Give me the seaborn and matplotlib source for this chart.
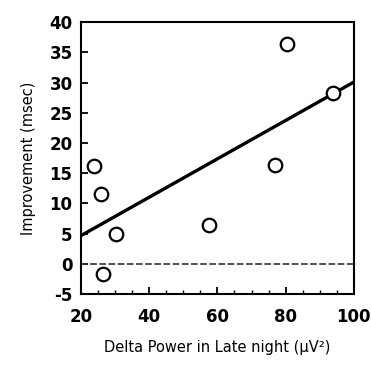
import matplotlib
matplotlib.use("Agg")
import numpy as np
import pandas as pd
import matplotlib.pyplot as plt
import seaborn as sns
from matplotlib.ticker import MultipleLocator

# Values
delta_power = [23.7, 25.8, 30.2, 26.5, 57.6, 76.8, 80.5, 94.0]
improvement = [16.2, 11.5, 4.9, -1.7, 6.5, 16.4, 36.4, 28.2]
x_ticks = [20, 40, 60, 80, 100]
y_ticks = [-5, 0, 5, 10, 15, 20, 25, 30, 35, 40]

df = pd.DataFrame({"delta": delta_power, "improvement": improvement})

sns.set_style("ticks")
plt.rcParams["font.family"] = ["DejaVu Sans"]
plt.rcParams["axes.unicode_minus"] = False
plt.rcParams["text.color"] = "black"
plt.rcParams["axes.labelcolor"] = "black"
plt.rcParams["xtick.color"] = "black"
plt.rcParams["ytick.color"] = "black"

fig = plt.figure(figsize=(3.71, 3.69), dpi=100)
ax = fig.add_axes([0.218, 0.203, 0.736, 0.737])
ax.set_xlim(20, 100)
ax.set_ylim(-5, 40)

# zero reference line
ax.axhline(0, color="#333333", lw=1.2, ls=(0, (4, 1.5)), zorder=1)

# fitted line across the whole axis, then open circles
sns.regplot(data=df, x="delta", y="improvement", ax=ax, ci=None, truncate=False,
            scatter=False, line_kws={"color": "black", "lw": 2.4})
sns.scatterplot(data=df, x="delta", y="improvement", ax=ax, s=95,
                facecolor="white", edgecolor="black", linewidth=1.6, zorder=3)

ax.set_xlim(20, 100)
ax.set_ylim(-5, 40)
ax.set_xticks(x_ticks)
ax.set_yticks(y_ticks)
ax.xaxis.set_minor_locator(MultipleLocator(5))
ax.tick_params(axis="both", which="major", direction="in", length=5, width=1.3,
               labelsize=12, pad=6)
ax.tick_params(axis="x", which="major", pad=10)
ax.tick_params(axis="x", which="minor", direction="in", length=3, width=1)
for lab in ax.get_xticklabels() + ax.get_yticklabels():
    lab.set_fontweight("bold")
for sp in ax.spines.values():
    sp.set_visible(True)
    sp.set_linewidth(1.5)
    sp.set_color("black")

ax.set_xlabel("Delta Power in Late night (\u03bcV\u00b2)", fontsize=10.5, labelpad=10)
ax.set_ylabel("Improvement (msec)", fontsize=10.5, labelpad=10)

fig.savefig("out.png", dpi=100)
